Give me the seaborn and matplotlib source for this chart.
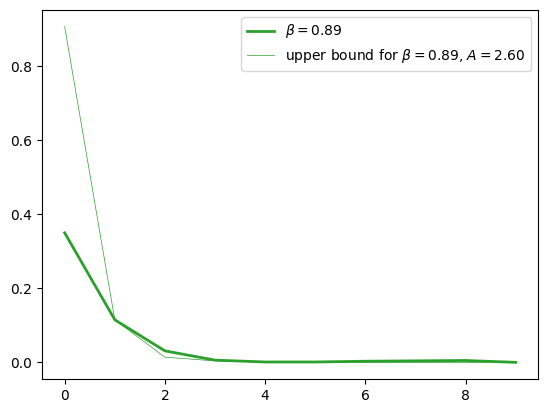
import matplotlib
matplotlib.use("Agg")
import matplotlib.pyplot as plt
import seaborn as sns
import pandas as pd

# values
steps = [0, 1, 2, 3, 4, 5, 6, 7, 8, 9]
beta_vals = [0.350, 0.115, 0.031, 0.006, 0.001, 0.001, 0.003, 0.004, 0.005, 0.000]
bound_vals = [0.907, 0.115, 0.014, 0.004, 0.001, 0.000, 0.000, 0.000, 0.000, 0.000]

df = pd.DataFrame({"step": steps, "beta": beta_vals, "bound": bound_vals})

fig, ax = plt.subplots(figsize=(5.47, 4.13), dpi=100)
fig.subplots_adjust(left=0.077, right=0.984, top=0.976, bottom=0.082)

green = "#2ca02c"
sns.lineplot(data=df, x="step", y="beta", ax=ax, color=green, linewidth=2,
             label=r"$\beta = 0.89$")
sns.lineplot(data=df, x="step", y="bound", ax=ax, color=green, linewidth=0.5,
             label=r"upper bound for $\beta = 0.89$, $A = 2.60$")

ax.set_xlabel("")
ax.set_ylabel("")
ax.legend(loc="upper right")
fig.savefig("out.png")
